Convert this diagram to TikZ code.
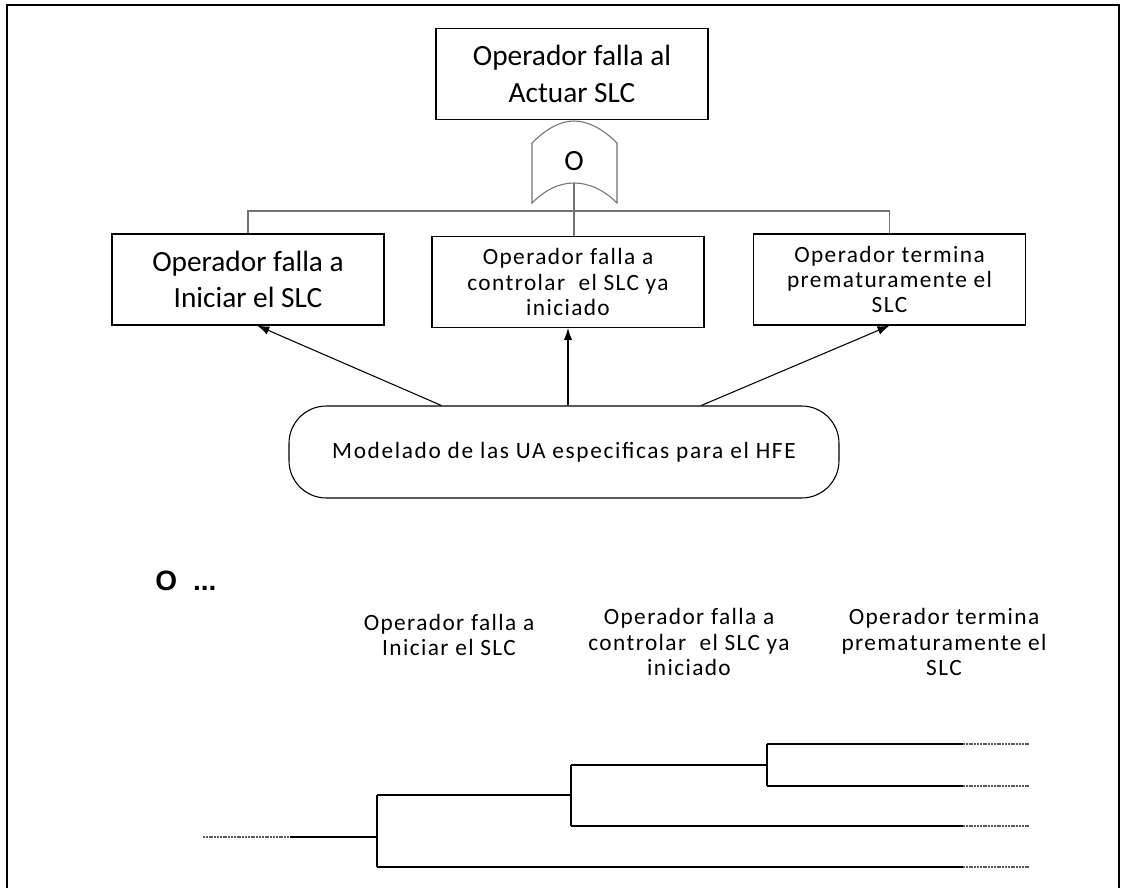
\documentclass[tikz,border=0pt]{standalone}
\usepackage{fontspec}
\setmainfont{Carlito}
\newfontfamily\arialfont{Liberation Sans}
\usetikzlibrary{arrows.meta,positioning}
\tikzstyle{caja} = [draw, line width=1.2pt, minimum width=204pt, minimum height=68pt, align=center, inner sep=1pt]
\tikzstyle{grande} = [font=\fontsize{22}{27.5}\selectfont]
\tikzstyle{espaciado} = [font=\fontsize{17.5}{19}\selectfont\addfontfeatures{LetterSpace=6}]
\tikzstyle{etiqueta} = [align=center, espaciado]
\tikzstyle{gris} = [draw=black!55, line width=0.8pt]
\tikzstyle{ramal} = [line width=1pt]
\tikzstyle{puntos} = [black!65, line width=1pt, dash pattern=on 1.5pt off 0.6pt]

\begin{document}
\begin{tikzpicture}[x=0.75pt, y=-0.75pt, >={Latex[length=9pt,width=6.5pt]}]
\useasboundingbox (0,0) rectangle (1122,888);
% marco
\draw[line width=1.6pt] (7,888) -- (7,5) -- (1119,5) -- (1119,888);

% arbol de fallas
\node[caja, grande] (top) at (572,74) {Operador falla al\\Actuar SLC};
\draw[gris, fill=white] (532,143) .. controls (546,129) and (560,121) .. (574,121)
  .. controls (588,121) and (603,129) .. (617,143) -- (617,203)
  .. controls (604,190) and (589,183) .. (574,183)
  .. controls (559,183) and (545,190) .. (532,203) -- cycle;
\node[grande] (gate) at (574,161) {O};
\coordinate (gin) at (574,183);
\node[caja, grande] (iniciar) at (248,279.5) {Operador falla a\\Iniciar el SLC};
\node[caja, espaciado] (controlar) at (568,282) {Operador falla a\\controlar\ \ el SLC ya\\iniciado};
\node[caja, espaciado] (termina) at (889.5,279.5) {Operador termina\\prematuramente el\\SLC};
\coordinate (barra) at (574,211);
\draw[gris] (iniciar.north) |- (barra) -| (termina.north);
\draw[gris] (gin) -- (gin |- controlar.north);

\node[draw, line width=0.8pt, rounded corners=28pt, minimum width=412.5pt, minimum height=69pt, font=\fontsize{17.5}{19}\selectfont\addfontfeatures{LetterSpace=7}] (ua) at (564,452) {Modelado de las UA especificas para el HFE};

\path[->, line width=0.8pt]
([xshift=-92pt]ua.north) edge ([xshift=7pt]iniciar.south)
(controlar.south |- ua.north) edge (controlar.south)
([xshift=103pt]ua.north) edge (termina.south);

% arbol de eventos
\node[anchor=base west, inner sep=0pt, font=\arialfont\bfseries\fontsize{21}{24}\selectfont] (olabel) at (155,590) {O\hspace{12pt}...};
\node[etiqueta] (e1) at (449,635) {Operador falla a\\Iniciar el SLC};
\node[etiqueta] (e2) at (689,642) {Operador falla a\\controlar\ \ el SLC ya\\iniciado};
\node[etiqueta] (e3) at (944,642) {Operador termina\\prematuramente el\\SLC};

\coordinate (raiz) at (203,837);
\coordinate (r1) at (290,837);
\coordinate (n1) at (377,837);
\coordinate (n1a) at (377,795);
\coordinate (n1b) at (377,867);
\coordinate (n2) at (571,795);
\coordinate (n2a) at (571,765);
\coordinate (n2b) at (571,826);
\coordinate (n3) at (767,765);
\coordinate (n3a) at (767,744);
\coordinate (n3b) at (767,786);
\draw[puntos] (raiz) -- (r1);
\draw[ramal] (r1) -- (n1) (n1a) -- (n1b) (n1a) -- (n2)
  (n2a) -- (n2b) (n2a) -- (n3) (n3a) -- (n3b);
\foreach \y/\x in {744/767, 786/767, 826/571, 867/377} {
  \draw[ramal] (\x,\y) -- (963,\y);
  \draw[puntos] (963,\y) -- (1030,\y);
}

\end{tikzpicture}
\end{document}
